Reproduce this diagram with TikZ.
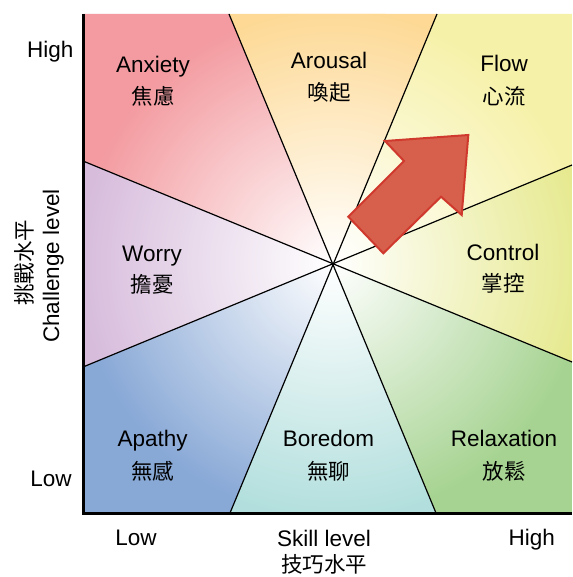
\documentclass[tikz,border=0pt]{standalone}
\usepackage{fontspec}
\setmainfont{Liberation Sans}
\newfontfamily\cjk{Noto Sans CJK TC}
\definecolor{cAnx}{HTML}{F39BA0}
\definecolor{cAro}{HTML}{FDD995}
\definecolor{cFlo}{HTML}{F6F1A8}
\definecolor{cCon}{HTML}{E6E98E}
\definecolor{cRel}{HTML}{A6D391}
\definecolor{cBor}{HTML}{B2DFDD}
\definecolor{cApa}{HTML}{88A8D6}
\definecolor{cWor}{HTML}{D7BCDC}
\definecolor{arrfill}{HTML}{D6604B}
\definecolor{arrdraw}{HTML}{D0392D}
\tikzset{
  lbl/.style={font=\fontsize{22.5}{26}\selectfont, anchor=base, inner sep=0pt},
  cj/.style={font=\cjk\fontsize{21.5}{25}\selectfont, anchor=center, inner sep=0pt},
  divline/.style={line width=1.2pt, black},
  axisline/.style={line width=3pt, black, line join=miter},
  bigarrow/.style={fill=arrfill, draw=arrdraw, line width=2pt, line join=miter},
}
\newcommand{\sector}[2]{%
  \begin{scope}
    \clip #1 -- cycle;
    \fill[#2] #1 -- cycle;
    \shade[inner color=white, outer color=#2] (C) circle (255pt);
  \end{scope}}
\begin{document}
\begin{tikzpicture}[x=1pt,y=-1pt]
\useasboundingbox (0,0) rectangle (572,577);
% key points
\coordinate (C) at (333,263.5);
\coordinate (TL) at (83,14);
\coordinate (TR) at (572,14);
\coordinate (BL) at (83,513);
\coordinate (BR) at (572,513);
\coordinate (T1) at (229,14);
\coordinate (T2) at (437,14);
\coordinate (L1) at (83,161);
\coordinate (L2) at (83,367);
\coordinate (B1) at (230,513);
\coordinate (B2) at (436,513);
\coordinate (R1) at (572,165);
\coordinate (R2) at (572,362);
% sectors
\sector{(C) -- (L1) -- (TL) -- (T1)}{cAnx}
\sector{(C) -- (T1) -- (T2)}{cAro}
\sector{(C) -- (T2) -- (TR) -- (R1)}{cFlo}
\sector{(C) -- (R1) -- (R2)}{cCon}
\sector{(C) -- (R2) -- (BR) -- (B2)}{cRel}
\sector{(C) -- (B2) -- (B1)}{cBor}
\sector{(C) -- (B1) -- (BL) -- (L2)}{cApa}
\sector{(C) -- (L2) -- (L1)}{cWor}
% dividing lines
\draw[divline] (T1) -- (B2);
\draw[divline] (T2) -- (B1);
\draw[divline] (L1) -- (R2);
\draw[divline] (L2) -- (R1);
% axes
\draw[axisline] (TL) -- (BL) -- (BR);
% arrow
\coordinate (a1) at (468.3,135);
\coordinate (a2) at (385,141);
\coordinate (a3) at (404,161);
\coordinate (a4) at (348.3,216.7);
\coordinate (a5) at (383.3,253.3);
\coordinate (a6) at (441,196.7);
\coordinate (a7) at (461.7,215);
\draw[bigarrow] (a1) -- (a2) -- (a3) -- (a4) -- (a5) -- (a6) -- (a7) -- cycle;
% sector labels
\node[lbl] (anx) at (153,72.7) {Anxiety};
\node[cj] (anxc) at (153,96) {焦慮};
\node[lbl] (aro) at (329,69) {Arousal};
\node[cj] (aroc) at (329,92.5) {喚起};
\node[lbl] (flo) at (504,71.7) {Flow};
\node[cj] (floc) at (504,96) {心流};
\node[lbl] (wor) at (152,261.7) {Worry};
\node[cj] (worc) at (152,284) {擔憂};
\node[lbl] (con) at (503,260) {Control};
\node[cj] (conc) at (503,283) {掌控};
\node[lbl] (apa) at (152.7,446.7) {Apathy};
\node[cj] (apac) at (152.7,471) {無感};
\node[lbl] (bor) at (328.5,446.7) {Boredom};
\node[cj] (borc) at (328.5,471) {無聊};
\node[lbl] (rel) at (504,446.7) {Relaxation};
\node[cj] (relc) at (504,471) {放鬆};
% axis labels
\node[lbl] (yhigh) at (50.3,57.3) {High};
\node[lbl] (ylow) at (51,486.7) {Low};
\node[lbl] (xlow) at (136,545) {Low};
\node[lbl] (xhigh) at (531.7,545) {High};
\node[lbl] (xlab) at (324,546.7) {Skill level};
\node[cj] (xlabc) at (324,564.5) {技巧水平};
\node[lbl, anchor=center, rotate=90] (ylab) at (53.3,266) {Challenge level};
\node[cj, rotate=90] (ylabc) at (24,262.5) {挑戰水平};
\end{tikzpicture}
\end{document}
